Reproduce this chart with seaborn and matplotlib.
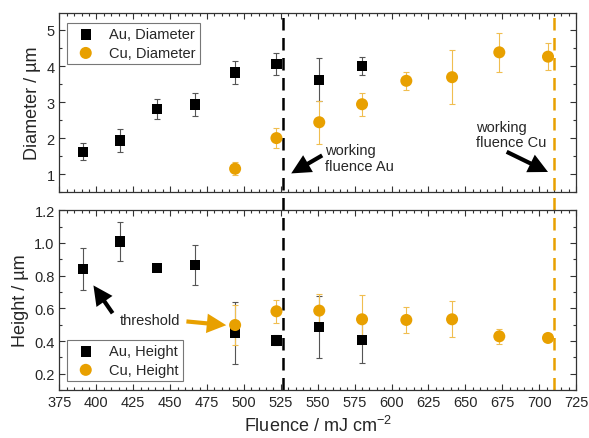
import numpy as np
import pandas as pd
import matplotlib
matplotlib.use("Agg")
import matplotlib.pyplot as plt
import seaborn as sns
from matplotlib.ticker import MultipleLocator, AutoMinorLocator

# Au data
au_fluence = [391, 416, 441, 467, 494, 522, 551, 580]
au_diam = [1.62, 1.93, 2.80, 2.93, 3.82, 4.06, 3.62, 4.01]
au_diam_err = [0.24, 0.31, 0.28, 0.31, 0.33, 0.30, 0.60, 0.25]
au_height = [0.839, 1.008, 0.847, 0.865, 0.450, 0.404, 0.486, 0.408]
au_height_err = [0.13, 0.12, 0.0, 0.12, 0.19, 0.03, 0.19, 0.14]

# Cu data
cu_fluence = [494, 522, 551, 580, 610, 641, 673, 706]
cu_diam = [1.15, 2.00, 2.44, 2.94, 3.59, 3.69, 4.38, 4.26]
cu_diam_err = [0.18, 0.28, 0.60, 0.32, 0.25, 0.75, 0.55, 0.38]
cu_height = [0.498, 0.582, 0.586, 0.533, 0.529, 0.533, 0.429, 0.419]
cu_height_err = [0.12, 0.07, 0.10, 0.15, 0.078, 0.11, 0.045, 0.01]

work_au = 526.5
work_cu = 710

ORANGE = "#E8A000"

sns.set_style("ticks")
plt.rcParams['font.family'] = ['Liberation Sans', 'DejaVu Sans']
plt.rcParams['mathtext.fontset'] = 'custom'
plt.rcParams['mathtext.rm'] = 'Liberation Sans'

fig = plt.figure(figsize=(5.89, 4.39), dpi=100)
ax1 = fig.add_axes([0.101, 0.560, 0.877, 0.408])
ax2 = fig.add_axes([0.101, 0.109, 0.877, 0.410])

au = pd.DataFrame({"f": au_fluence, "d": au_diam, "de": au_diam_err,
                   "h": au_height, "he": au_height_err})
cu = pd.DataFrame({"f": cu_fluence, "d": cu_diam, "de": cu_diam_err,
                   "h": cu_height, "he": cu_height_err})


def draw(ax, col, ecol, label_au, label_cu):
    ax.errorbar(au["f"], au[col], yerr=au[ecol], fmt="none", ecolor="#555555",
                elinewidth=0.8, capsize=2.5, capthick=0.8, zorder=2)
    ax.errorbar(cu["f"], cu[col], yerr=cu[ecol], fmt="none", ecolor="#F0BE50",
                elinewidth=0.8, capsize=2.5, capthick=0.8, zorder=2)
    sns.scatterplot(data=au, x="f", y=col, marker="s", s=55, color="black",
                    edgecolor="none", ax=ax, label=label_au, zorder=3)
    sns.scatterplot(data=cu, x="f", y=col, marker="o", s=75, color=ORANGE,
                    edgecolor="none", ax=ax, label=label_cu, zorder=3)


draw(ax1, "d", "de", "Au, Diameter", "Cu, Diameter")
draw(ax2, "h", "he", "Au, Height", "Cu, Height")

for ax in (ax1, ax2):
    ax.set_xlim(375, 725)
    ax.xaxis.set_major_locator(MultipleLocator(25))
    ax.xaxis.set_minor_locator(AutoMinorLocator(5))
    ax.yaxis.set_minor_locator(AutoMinorLocator(2))
    ax.tick_params(which="both", direction="in", top=True, right=True,
                   color="#333333", labelsize=10.5, width=0.8)
    ax.tick_params(which="major", length=4)
    ax.tick_params(which="minor", length=2)
    for sp in ax.spines.values():
        sp.set_color("#333333")
        sp.set_linewidth(0.9)
    ax.set_xlabel("")

ax1.set_ylim(0.5, 5.47)
ax1.yaxis.set_major_locator(MultipleLocator(1))
ax1.tick_params(labelbottom=False)
ax1.set_ylabel("Diameter / µm", fontsize=13)

ax2.set_ylim(0.1, 1.2)
ax2.yaxis.set_major_locator(MultipleLocator(0.2))
ax2.yaxis.set_major_formatter(matplotlib.ticker.FormatStrFormatter("%.1f"))
ax2.set_ylabel("Height / µm", fontsize=13)
ax2.set_xlabel("Fluence / mJ cm$^{-2}$", fontsize=13)

# working fluence lines, spanning the gap between the panels
ax1.axvline(work_au, ymin=-0.1, ymax=1, color="black", ls=(0, (5, 3)), lw=1.8,
            clip_on=False, zorder=1)
ax2.axvline(work_au, color="black", ls=(0, (5, 3)), lw=1.8, zorder=1)
ax1.axvline(work_cu, ymin=-0.1, ymax=1, color=ORANGE, ls=(0, (5, 3)), lw=1.8,
            clip_on=False, zorder=1)
ax2.axvline(work_cu, color=ORANGE, ls=(0, (5, 3)), lw=1.8, zorder=1)

arrow_k = dict(arrowstyle="simple,head_length=1.4,head_width=1.4,tail_width=0.3",
               color="black", lw=0, shrinkA=0, shrinkB=0)
arrow_o = dict(arrowstyle="simple,head_length=1.4,head_width=1.4,tail_width=0.3",
               color=ORANGE, lw=0, shrinkA=0, shrinkB=0)

ax1.annotate("", xy=(532, 1.02), xytext=(553, 1.52), arrowprops=arrow_k)
ax1.text(555, 1.44, "working\nfluence Au", fontsize=10.5, va="center",
         ha="left", linespacing=1.15)
ax1.annotate("", xy=(706, 1.06), xytext=(678, 1.62), arrowprops=arrow_k)
ax1.text(657, 2.1, "working\nfluence Cu", fontsize=10.5, va="center",
         ha="left", linespacing=1.15)

ax2.annotate("", xy=(398, 0.74), xytext=(411, 0.57), arrowprops=arrow_k)
ax2.text(436, 0.53, "threshold", fontsize=10.5, va="center", ha="center")
ax2.annotate("", xy=(488, 0.497), xytext=(461, 0.52), arrowprops=arrow_o)

leg1 = ax1.legend(loc="upper left", fontsize=10.5, frameon=True, fancybox=False,
                  edgecolor="#555555", handletextpad=0.6, borderpad=0.3,
                  labelspacing=0.3, bbox_to_anchor=(0.0, 0.985))
leg1.get_frame().set_linewidth(0.8)
leg2 = ax2.legend(loc="lower left", fontsize=10.5, frameon=True, fancybox=False,
                  edgecolor="#555555", handletextpad=0.6, borderpad=0.3,
                  labelspacing=0.3, bbox_to_anchor=(0.0, 0.01))
leg2.get_frame().set_linewidth(0.8)

fig.savefig("out.png", dpi=100)
